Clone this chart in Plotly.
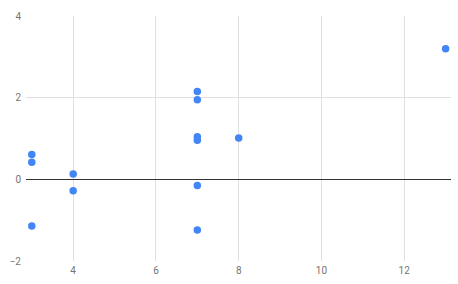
import plotly.graph_objects as go

x_vals = [3, 3, 3, 4, 4, 7, 7, 7, 7, 7, 7, 8, 13]
y_vals = [0.61, 0.42, -1.14, 0.13, -0.28, 2.15, 1.95, 1.04, 0.96, -0.15, -1.24, 1.01, 3.2]
x_ticks = [4, 6, 8, 10, 12]
y_ticks = [-2, 0, 2, 4]

fig = go.Figure(go.Scatter(
    x=x_vals, y=y_vals, mode="markers",
    marker=dict(color="#4285F4", size=7.5, line=dict(width=0)),
    cliponaxis=False,
))
fig.update_layout(
    width=458, height=284,
    margin=dict(l=26, r=7, t=16, b=23),
    paper_bgcolor="white", plot_bgcolor="white",
    showlegend=False,
    font=dict(family="Roboto", size=10, color="#757575"),
)
fig.update_xaxes(
    range=[2.86, 13.13], tickvals=x_ticks, showgrid=True,
    gridcolor="#e0e0e0", gridwidth=1, zeroline=False, showline=False,
    ticks="", ticklabelstandoff=2,
)
fig.update_yaxes(
    range=[-2, 4], tickvals=y_ticks, showgrid=True,
    gridcolor="#e0e0e0", gridwidth=1, zeroline=True, zerolinecolor="#333333",
    zerolinewidth=1, showline=False, ticks="", ticklabelstandoff=4,
)
fig.write_html("out.html")
